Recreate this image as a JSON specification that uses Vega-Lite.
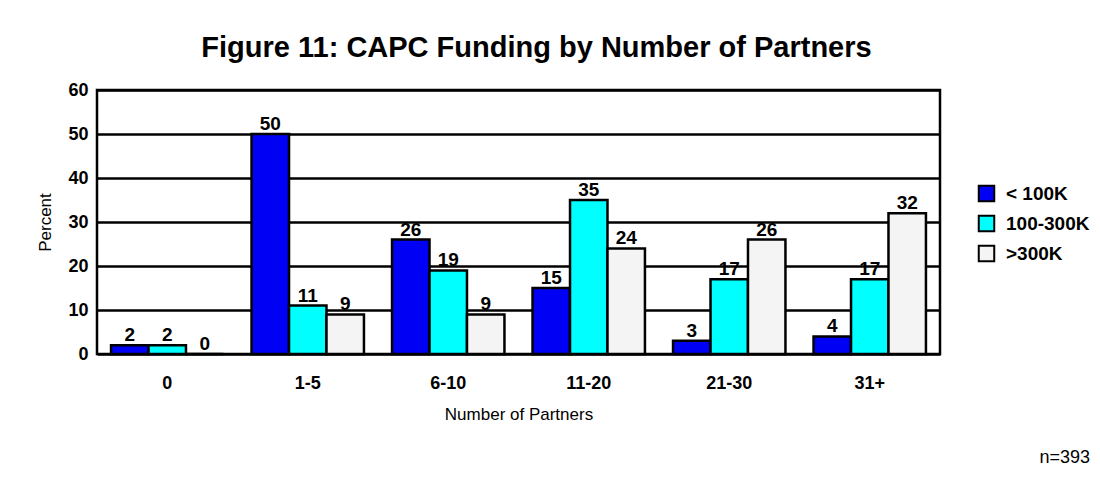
{
  "$schema": "https://vega.github.io/schema/vega-lite/v6.json",
  "autosize": {"type": "none"},
  "padding": {"left": 97, "top": 90, "right": 160, "bottom": 123},
  "width": 843,
  "height": 264,
  "background": "white",
  "title": {
    "text": "Figure 11: CAPC Funding by Number of Partners",
    "font": "Liberation Sans",
    "fontSize": 29,
    "fontWeight": "bold",
    "color": "#000000",
    "anchor": "middle",
    "frame": "group",
    "dx": 18,
    "offset": 18
  },
  "config": {
    "font": "Liberation Sans",
    "view": {"stroke": "#000000", "strokeWidth": 2.5},
    "axis": {"labelColor": "#000000", "titleColor": "#000000"}
  },
  "data": {
    "values": [
      {"partners": "0", "funding": "< 100K", "percent": 2},
      {"partners": "0", "funding": "100-300K", "percent": 2},
      {"partners": "0", "funding": ">300K", "percent": 0},
      {"partners": "1-5", "funding": "< 100K", "percent": 50},
      {"partners": "1-5", "funding": "100-300K", "percent": 11},
      {"partners": "1-5", "funding": ">300K", "percent": 9},
      {"partners": "6-10", "funding": "< 100K", "percent": 26},
      {"partners": "6-10", "funding": "100-300K", "percent": 19},
      {"partners": "6-10", "funding": ">300K", "percent": 9},
      {"partners": "11-20", "funding": "< 100K", "percent": 15},
      {"partners": "11-20", "funding": "100-300K", "percent": 35},
      {"partners": "11-20", "funding": ">300K", "percent": 24},
      {"partners": "21-30", "funding": "< 100K", "percent": 3},
      {"partners": "21-30", "funding": "100-300K", "percent": 17},
      {"partners": "21-30", "funding": ">300K", "percent": 26},
      {"partners": "31+", "funding": "< 100K", "percent": 4},
      {"partners": "31+", "funding": "100-300K", "percent": 17},
      {"partners": "31+", "funding": ">300K", "percent": 32}
    ]
  },
  "layer": [
    {
      "mark": {"type": "bar", "stroke": "#000000", "strokeWidth": 2.5},
      "encoding": {
        "x": {
          "field": "partners",
          "type": "nominal",
          "sort": ["0", "1-5", "6-10", "11-20", "21-30", "31+"],
          "scale": {"paddingInner": 0.2, "paddingOuter": 0.1},
          "axis": {
            "title": "Number of Partners",
            "titleFont": "Liberation Sans",
            "titleFontSize": 17,
            "titleFontWeight": "normal",
            "titlePadding": 14,
            "labelFont": "Liberation Sans",
            "labelFontSize": 18,
            "labelFontWeight": "bold",
            "labelAngle": 0,
            "labelPadding": 20,
            "ticks": false,
            "domain": false,
            "grid": false
          }
        },
        "xOffset": {
          "field": "funding",
          "type": "nominal",
          "sort": ["< 100K", "100-300K", ">300K"]
        },
        "y": {
          "field": "percent",
          "type": "quantitative",
          "scale": {"domain": [0, 60], "nice": false},
          "axis": {
            "title": "Percent",
            "titleFont": "Liberation Sans",
            "titleFontSize": 17,
            "titleFontWeight": "normal",
            "titlePadding": 13,
            "values": [0, 10, 20, 30, 40, 50, 60],
            "labelFont": "Liberation Sans",
            "labelFontSize": 18,
            "labelFontWeight": "bold",
            "labelPadding": 9,
            "ticks": false,
            "domain": false,
            "grid": true,
            "gridColor": "#000000",
            "gridWidth": 2.5,
            "gridOpacity": 1
          }
        },
        "fill": {
          "field": "funding",
          "type": "nominal",
          "sort": ["< 100K", "100-300K", ">300K"],
          "scale": {
            "domain": ["< 100K", "100-300K", ">300K"],
            "range": ["#0000F5", "#00FFFF", "#F4F4F4"]
          },
          "legend": {
            "title": null,
            "orient": "none",
            "legendX": 880,
            "legendY": 94,
            "padding": 0,
            "symbolType": "square",
            "symbolSize": 240,
            "symbolStrokeColor": "#000000",
            "symbolStrokeWidth": 2,
            "symbolOpacity": 1,
            "labelFont": "Liberation Sans",
            "labelFontSize": 19,
            "labelFontWeight": "bold",
            "labelColor": "#000000",
            "labelOffset": 10,
            "rowPadding": 5
          }
        }
      }
    },
    {
      "mark": {
        "type": "text",
        "baseline": "alphabetic",
        "dy": -4,
        "font": "Liberation Sans",
        "fontSize": 19,
        "fontWeight": "bold",
        "color": "#000000"
      },
      "encoding": {
        "x": {
          "field": "partners",
          "type": "nominal",
          "sort": ["0", "1-5", "6-10", "11-20", "21-30", "31+"]
        },
        "xOffset": {
          "field": "funding",
          "type": "nominal",
          "sort": ["< 100K", "100-300K", ">300K"]
        },
        "y": {"field": "percent", "type": "quantitative"},
        "text": {"field": "percent", "type": "quantitative"}
      }
    },
    {
      "data": {"values": [{"note": "n=393"}]},
      "mark": {
        "type": "text",
        "align": "right",
        "baseline": "alphabetic",
        "font": "Liberation Sans",
        "fontSize": 18,
        "color": "#000000"
      },
      "encoding": {
        "x": {"value": 993},
        "y": {"value": 373},
        "text": {"field": "note", "type": "nominal"}
      }
    }
  ]
}
